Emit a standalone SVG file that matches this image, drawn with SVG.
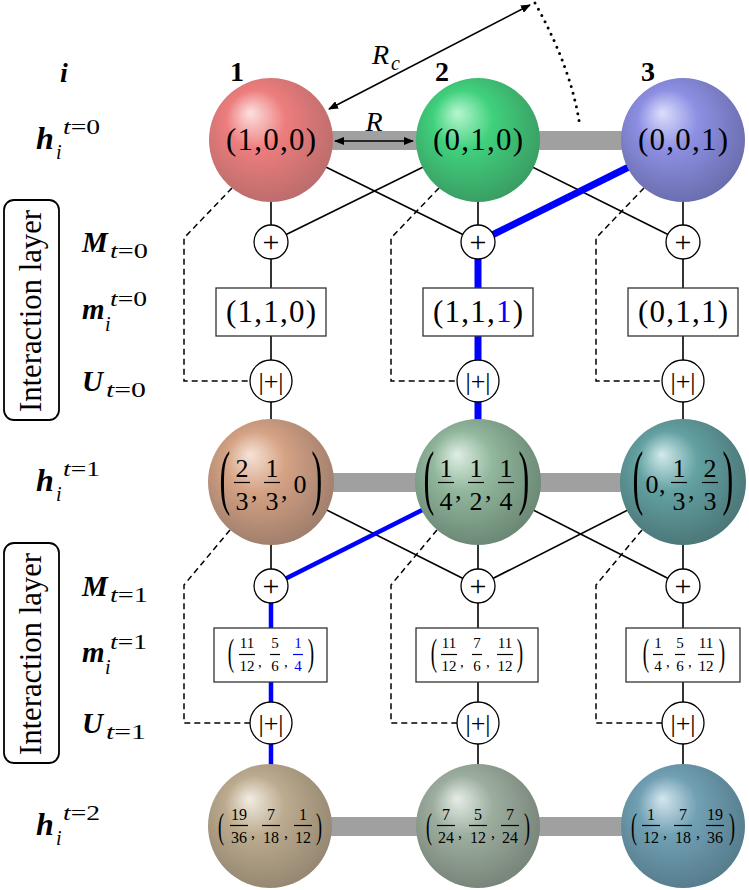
<svg xmlns="http://www.w3.org/2000/svg" width="749" height="890" viewBox="0 0 749 890">
<style>
.t{font-family:"Liberation Serif","DejaVu Serif",serif;fill:#000}
.it{font-style:italic}
.bi{font-style:italic;font-weight:bold}
.b{font-weight:bold}
.m{text-anchor:middle}
.ln{stroke:#000;stroke-width:1.6;fill:none}
.dash{stroke:#000;stroke-width:1.5;fill:none;stroke-dasharray:6 4}
.gbar{fill:#a0a0a0}
.box{fill:#fff;stroke:#333;stroke-width:1.3}
.op{fill:#fff;stroke:#000;stroke-width:1.3}
.fb{stroke:#000;stroke-width:1.2}
.fbb{stroke:#0000ff;stroke-width:1.2}
.f30{font-size:31px}
.f25{font-size:26px}
.f15{font-size:16px}
.f14{font-size:15px}
.lay{fill:none;stroke:#000;stroke-width:1.8}
</style>
<defs>
<marker id="ah" viewBox="0 0 10 8" refX="9" refY="4" markerWidth="10" markerHeight="8" markerUnits="userSpaceOnUse" orient="auto-start-reverse"><path d="M0,0 L10,4 L0,8 z" fill="#000"/></marker>
<radialGradient id="gr" fx="0.33" fy="0.28" r="0.6" cx="0.45" cy="0.42"><stop offset="0" stop-color="#fde0e0"/><stop offset="0.4" stop-color="#ed7d7d"/><stop offset="1" stop-color="#bb6c6c"/></radialGradient>
<radialGradient id="gg" fx="0.33" fy="0.28" r="0.6" cx="0.45" cy="0.42"><stop offset="0" stop-color="#b8f6d0"/><stop offset="0.4" stop-color="#40d17d"/><stop offset="1" stop-color="#3a9c63"/></radialGradient>
<radialGradient id="gb" fx="0.33" fy="0.28" r="0.6" cx="0.45" cy="0.42"><stop offset="0" stop-color="#dcdefc"/><stop offset="0.4" stop-color="#8d90e3"/><stop offset="1" stop-color="#6a6dac"/></radialGradient>
<radialGradient id="go" fx="0.33" fy="0.28" r="0.6" cx="0.45" cy="0.42"><stop offset="0" stop-color="#f6e2d6"/><stop offset="0.4" stop-color="#d5a284"/><stop offset="1" stop-color="#9f7e6c"/></radialGradient>
<radialGradient id="gs" fx="0.33" fy="0.28" r="0.6" cx="0.45" cy="0.42"><stop offset="0" stop-color="#dfeee4"/><stop offset="0.4" stop-color="#91b79c"/><stop offset="1" stop-color="#6a8674"/></radialGradient>
<radialGradient id="gt" fx="0.33" fy="0.28" r="0.6" cx="0.45" cy="0.42"><stop offset="0" stop-color="#d2eaea"/><stop offset="0.4" stop-color="#63a1a2"/><stop offset="1" stop-color="#4b7677"/></radialGradient>
<radialGradient id="gn" fx="0.33" fy="0.28" r="0.6" cx="0.45" cy="0.42"><stop offset="0" stop-color="#f2ece2"/><stop offset="0.4" stop-color="#bcab8f"/><stop offset="1" stop-color="#948671"/></radialGradient>
<radialGradient id="gv" fx="0.33" fy="0.28" r="0.6" cx="0.45" cy="0.42"><stop offset="0" stop-color="#e6ece6"/><stop offset="0.4" stop-color="#9dae9f"/><stop offset="1" stop-color="#778479"/></radialGradient>
<radialGradient id="gw" fx="0.33" fy="0.28" r="0.6" cx="0.45" cy="0.42"><stop offset="0" stop-color="#d4e6ee"/><stop offset="0.4" stop-color="#71a0b4"/><stop offset="1" stop-color="#557c8b"/></radialGradient>
</defs>
<rect width="749" height="890" fill="#fff"/>

<!-- left labels -->
<g id="labels">
<rect class="lay" x="4" y="200" width="55" height="220" rx="10"/>
<text class="t" font-size="31" transform="translate(41,311) rotate(-90)" text-anchor="middle" textLength="202" lengthAdjust="spacingAndGlyphs">Interaction layer</text>
<rect class="lay" x="4" y="543" width="55" height="220" rx="10"/>
<text class="t" font-size="31" transform="translate(41,654) rotate(-90)" text-anchor="middle" textLength="202" lengthAdjust="spacingAndGlyphs">Interaction layer</text>
<text class="t bi" x="60" y="82" font-size="28">i</text>
<text class="t bi" x="36" y="149" font-size="32">h</text><text class="t it" x="56" y="159" font-size="20">i</text><text class="t" x="63" y="134" font-size="21" textLength="37" lengthAdjust="spacingAndGlyphs"><tspan font-style="italic">t</tspan>=0</text>
<text class="t bi" x="82" y="252" font-size="29">M</text><text class="t" x="110" y="258" font-size="21" textLength="38" lengthAdjust="spacingAndGlyphs"><tspan font-style="italic">t</tspan>=0</text>
<text class="t bi" x="82" y="319" font-size="29">m</text><text class="t it" x="105" y="331" font-size="20">i</text><text class="t" x="110" y="306" font-size="21" textLength="37" lengthAdjust="spacingAndGlyphs"><tspan font-style="italic">t</tspan>=0</text>
<text class="t bi" x="82" y="391" font-size="29">U</text><text class="t" x="106" y="397" font-size="21" textLength="40" lengthAdjust="spacingAndGlyphs"><tspan font-style="italic">t</tspan>=0</text>
<text class="t bi" x="36" y="491" font-size="32">h</text><text class="t it" x="56" y="501" font-size="20">i</text><text class="t" x="63" y="476" font-size="21" textLength="37" lengthAdjust="spacingAndGlyphs"><tspan font-style="italic">t</tspan>=1</text>
<text class="t bi" x="82" y="596" font-size="29">M</text><text class="t" x="110" y="602" font-size="21" textLength="38" lengthAdjust="spacingAndGlyphs"><tspan font-style="italic">t</tspan>=1</text>
<text class="t bi" x="82" y="662" font-size="29">m</text><text class="t it" x="105" y="674" font-size="20">i</text><text class="t" x="110" y="649" font-size="21" textLength="37" lengthAdjust="spacingAndGlyphs"><tspan font-style="italic">t</tspan>=1</text>
<text class="t bi" x="82" y="733" font-size="29">U</text><text class="t" x="106" y="739" font-size="21" textLength="40" lengthAdjust="spacingAndGlyphs"><tspan font-style="italic">t</tspan>=1</text>
<text class="t bi" x="36" y="835" font-size="32">h</text><text class="t it" x="56" y="845" font-size="20">i</text><text class="t" x="63" y="820" font-size="21" textLength="37" lengthAdjust="spacingAndGlyphs"><tspan font-style="italic">t</tspan>=2</text>
<text class="t b m" x="237" y="81" font-size="28">1</text>
<text class="t b m" x="442" y="81" font-size="28">2</text>
<text class="t b m" x="648" y="81" font-size="28">3</text>
</g>

<!-- connectors -->
<g id="connectors">
<rect class="gbar" x="271" y="131" width="207" height="19"/>
<rect class="gbar" x="478" y="131" width="205" height="19"/>
<rect class="gbar" x="271" y="473" width="207" height="19"/>
<rect class="gbar" x="478" y="473" width="205" height="19"/>
<rect class="gbar" x="270" y="817" width="208" height="19"/>
<rect class="gbar" x="478" y="817" width="205" height="19"/>
<line class="ln" x1="271" y1="140" x2="271" y2="826"/>
<line class="ln" x1="478" y1="140" x2="478" y2="826"/>
<line class="ln" x1="683" y1="140" x2="683" y2="826"/>
<line class="ln" x1="271" y1="140" x2="478" y2="242"/>
<line class="ln" x1="478" y1="140" x2="271" y2="242"/>
<line class="ln" x1="478" y1="140" x2="683" y2="242"/>
<line x1="683" y1="140" x2="478" y2="242" stroke="#0000ff" stroke-width="7"/>
<line x1="478" y1="242" x2="478" y2="482" stroke="#0000ff" stroke-width="7"/>
<line class="ln" x1="271" y1="482" x2="478" y2="586"/>
<line class="ln" x1="478" y1="482" x2="683" y2="586"/>
<line class="ln" x1="683" y1="482" x2="478" y2="586"/>
<line x1="478" y1="482" x2="271" y2="586" stroke="#0000ff" stroke-width="4.5"/>
<line x1="271" y1="586" x2="271" y2="826" stroke="#0000ff" stroke-width="4.5"/>
<path class="dash" d="M232,188 L184,238 L184,381 L250,381"/>
<path class="dash" d="M439,188 L391,238 L391,381 L457,381"/>
<path class="dash" d="M644,188 L596,238 L596,381 L662,381"/>
<path class="dash" d="M230,530 L184,585 L184,723 L250,723"/>
<path class="dash" d="M437,530 L391,585 L391,723 L457,723"/>
<path class="dash" d="M642,530 L596,585 L596,723 L662,723"/>
</g>

<!-- row h t=0 -->
<g id="h0-1"><circle cx="271" cy="140" r="62" fill="url(#gr)"/><text class="t m f30" x="271" y="150" textLength="90" lengthAdjust="spacing">(1,0,0)</text></g>
<g id="h0-2"><circle cx="478" cy="140" r="62" fill="url(#gg)"/><text class="t m f30" x="478" y="150" textLength="90" lengthAdjust="spacing">(0,1,0)</text></g>
<g id="h0-3"><circle cx="683" cy="140" r="62" fill="url(#gb)"/><text class="t m f30" x="683" y="150" textLength="90" lengthAdjust="spacing">(0,0,1)</text></g>

<!-- annotations R, Rc -->
<g id="annot">
<line class="ln" x1="335" y1="141" x2="413" y2="141" marker-start="url(#ah)" marker-end="url(#ah)"/>
<text class="t it m" x="374" y="131" font-size="28">R</text>
<line class="ln" x1="329" y1="109" x2="530" y2="5" marker-start="url(#ah)" marker-end="url(#ah)"/>
<text class="t it" x="372" y="64" font-size="28">R</text><text class="t it" x="391" y="70" font-size="20">c</text>
<path d="M535,3 Q572,69 580,127" fill="none" stroke="#000" stroke-width="3" stroke-linecap="round" stroke-dasharray="0 7"/>
</g>

<!-- M t=0 -->
<g id="M0-1"><circle class="op" cx="271" cy="242" r="17"/><text class="t m" x="271" y="252" font-size="30">+</text></g>
<g id="M0-2"><circle class="op" cx="478" cy="242" r="17"/><text class="t m" x="478" y="252" font-size="30">+</text></g>
<g id="M0-3"><circle class="op" cx="683" cy="242" r="17"/><text class="t m" x="683" y="252" font-size="30">+</text></g>

<!-- m t=0 -->
<g id="m0-1"><rect class="box" x="216" y="288" width="110" height="48"/><text class="t m f30" x="271" y="322" textLength="90" lengthAdjust="spacing">(1,1,0)</text></g>
<g id="m0-2"><rect class="box" x="423" y="288" width="110" height="48"/><text class="t m f30" x="478" y="322" textLength="90" lengthAdjust="spacing">(1,1,<tspan fill="#0000ff" style="fill:#0000ff">1</tspan>)</text></g>
<g id="m0-3"><rect class="box" x="628" y="288" width="110" height="48"/><text class="t m f30" x="683" y="322" textLength="90" lengthAdjust="spacing">(0,1,1)</text></g>

<!-- U t=0 -->
<g id="U0-1"><circle class="op" cx="271" cy="381" r="21"/><text class="t m" x="271" y="390" font-size="26">|+|</text></g>
<g id="U0-2"><circle class="op" cx="478" cy="381" r="21"/><text class="t m" x="478" y="390" font-size="26">|+|</text></g>
<g id="U0-3"><circle class="op" cx="683" cy="381" r="21"/><text class="t m" x="683" y="390" font-size="26">|+|</text></g>

<!-- h t=1 -->
<g id="h1-1"><circle cx="271" cy="482" r="63" fill="url(#go)"/>
<text class="t m" font-size="72" transform="translate(225,501) scale(0.45,1)">(</text>
<text class="t m f25" x="242" y="477">2</text><line class="fb" x1="234" y1="482.5" x2="250" y2="482.5"/><text class="t m f25" x="242" y="510">3</text>
<text class="t f25" x="251" y="499">,</text>
<text class="t m f25" x="272" y="477">1</text><line class="fb" x1="264" y1="482.5" x2="280" y2="482.5"/><text class="t m f25" x="272" y="510">3</text>
<text class="t f25" x="281" y="499">,</text>
<text class="t m f25" x="300" y="493">0</text>
<text class="t m" font-size="72" transform="translate(317,501) scale(0.45,1)">)</text>
</g>
<g id="h1-2"><circle cx="478" cy="482" r="63" fill="url(#gs)"/>
<text class="t m" font-size="72" transform="translate(429,501) scale(0.45,1)">(</text>
<text class="t m f25" x="446" y="477">1</text><line class="fb" x1="438" y1="482.5" x2="454" y2="482.5"/><text class="t m f25" x="446" y="510">4</text>
<text class="t f25" x="455" y="499">,</text>
<text class="t m f25" x="476" y="477">1</text><line class="fb" x1="468" y1="482.5" x2="484" y2="482.5"/><text class="t m f25" x="476" y="510">2</text>
<text class="t f25" x="485" y="499">,</text>
<text class="t m f25" x="506" y="477">1</text><line class="fb" x1="498" y1="482.5" x2="514" y2="482.5"/><text class="t m f25" x="506" y="510">4</text>
<text class="t m" font-size="72" transform="translate(524,501) scale(0.45,1)">)</text>
</g>
<g id="h1-3"><circle cx="683" cy="482" r="63" fill="url(#gt)"/>
<text class="t m" font-size="72" transform="translate(638,501) scale(0.45,1)">(</text>
<text class="t m f25" x="652" y="493">0</text>
<text class="t f25" x="659" y="493">,</text>
<text class="t m f25" x="679" y="477">1</text><line class="fb" x1="671" y1="482.5" x2="687" y2="482.5"/><text class="t m f25" x="679" y="510">3</text>
<text class="t f25" x="688" y="499">,</text>
<text class="t m f25" x="710" y="477">2</text><line class="fb" x1="702" y1="482.5" x2="718" y2="482.5"/><text class="t m f25" x="710" y="510">3</text>
<text class="t m" font-size="72" transform="translate(728,501) scale(0.45,1)">)</text>
</g>

<!-- M t=1 -->
<g id="M1-1"><circle class="op" cx="271" cy="586" r="17"/><text class="t m" x="271" y="596" font-size="30">+</text></g>
<g id="M1-2"><circle class="op" cx="478" cy="586" r="17"/><text class="t m" x="478" y="596" font-size="30">+</text></g>
<g id="M1-3"><circle class="op" cx="683" cy="586" r="17"/><text class="t m" x="683" y="596" font-size="30">+</text></g>

<!-- m t=1 -->
<g id="m1-1"><rect class="box" x="214" y="628" width="113" height="54"/>
<text class="t m" font-size="38" transform="translate(231,665) scale(0.5,1)">(</text>
<text class="t m f14" x="247" y="648">11</text><line class="fb" x1="239" y1="654.5" x2="255" y2="654.5"/><text class="t m f14" x="247" y="671">12</text>
<text class="t f14" x="258" y="667">,</text>
<text class="t m f14" x="275" y="648">5</text><line class="fb" x1="270" y1="654.5" x2="280" y2="654.5"/><text class="t m f14" x="275" y="671">6</text>
<text class="t f14" x="284" y="667">,</text>
<text class="t m f14" x="298" y="648" style="fill:#0000ff">1</text><line class="fbb" x1="293" y1="654.5" x2="303" y2="654.5"/><text class="t m f14" x="298" y="671" style="fill:#0000ff">4</text>
<text class="t m" font-size="38" transform="translate(311,665) scale(0.5,1)">)</text>
</g>
<g id="m1-2"><rect class="box" x="416" y="628" width="122" height="54"/>
<text class="t m" font-size="38" transform="translate(434,665) scale(0.5,1)">(</text>
<text class="t m f14" x="449" y="648">11</text><line class="fb" x1="441" y1="654.5" x2="457" y2="654.5"/><text class="t m f14" x="449" y="671">12</text>
<text class="t f14" x="460" y="667">,</text>
<text class="t m f14" x="477" y="648">7</text><line class="fb" x1="472" y1="654.5" x2="482" y2="654.5"/><text class="t m f14" x="477" y="671">6</text>
<text class="t f14" x="486" y="667">,</text>
<text class="t m f14" x="505" y="648">11</text><line class="fb" x1="497" y1="654.5" x2="513" y2="654.5"/><text class="t m f14" x="505" y="671">12</text>
<text class="t m" font-size="38" transform="translate(520,665) scale(0.5,1)">)</text>
</g>
<g id="m1-3"><rect class="box" x="626" y="628" width="114" height="54"/>
<text class="t m" font-size="38" transform="translate(646,665) scale(0.5,1)">(</text>
<text class="t m f14" x="658" y="648">1</text><line class="fb" x1="653" y1="654.5" x2="663" y2="654.5"/><text class="t m f14" x="658" y="671">4</text>
<text class="t f14" x="666" y="667">,</text>
<text class="t m f14" x="680" y="648">5</text><line class="fb" x1="675" y1="654.5" x2="685" y2="654.5"/><text class="t m f14" x="680" y="671">6</text>
<text class="t f14" x="688" y="667">,</text>
<text class="t m f14" x="706" y="648">11</text><line class="fb" x1="698" y1="654.5" x2="714" y2="654.5"/><text class="t m f14" x="706" y="671">12</text>
<text class="t m" font-size="38" transform="translate(722,665) scale(0.5,1)">)</text>
</g>

<!-- U t=1 -->
<g id="U1-1"><circle class="op" cx="271" cy="723" r="21"/><text class="t m" x="271" y="732" font-size="26">|+|</text></g>
<g id="U1-2"><circle class="op" cx="478" cy="723" r="21"/><text class="t m" x="478" y="732" font-size="26">|+|</text></g>
<g id="U1-3"><circle class="op" cx="683" cy="723" r="21"/><text class="t m" x="683" y="732" font-size="26">|+|</text></g>

<!-- h t=2 -->
<g id="h2-1"><circle cx="270" cy="826" r="62" fill="url(#gn)"/>
<text class="t m" font-size="36" transform="translate(221,838) scale(0.5,1)">(</text>
<text class="t m f15" x="239" y="820">19</text><line class="fb" x1="230" y1="825.5" x2="248" y2="825.5"/><text class="t m f15" x="239" y="843">36</text>
<text class="t f15" x="251" y="838">,</text>
<text class="t m f15" x="271" y="820">7</text><line class="fb" x1="262" y1="825.5" x2="280" y2="825.5"/><text class="t m f15" x="271" y="843">18</text>
<text class="t f15" x="284" y="838">,</text>
<text class="t m f15" x="303" y="820">1</text><line class="fb" x1="294" y1="825.5" x2="312" y2="825.5"/><text class="t m f15" x="303" y="843">12</text>
<text class="t m" font-size="36" transform="translate(319,838) scale(0.5,1)">)</text>
</g>
<g id="h2-2"><circle cx="478" cy="826" r="62" fill="url(#gv)"/>
<text class="t m" font-size="36" transform="translate(429,838) scale(0.5,1)">(</text>
<text class="t m f15" x="446" y="820">7</text><line class="fb" x1="437" y1="825.5" x2="455" y2="825.5"/><text class="t m f15" x="446" y="843">24</text>
<text class="t f15" x="458" y="838">,</text>
<text class="t m f15" x="478" y="820">5</text><line class="fb" x1="469" y1="825.5" x2="487" y2="825.5"/><text class="t m f15" x="478" y="843">12</text>
<text class="t f15" x="491" y="838">,</text>
<text class="t m f15" x="510" y="820">7</text><line class="fb" x1="501" y1="825.5" x2="519" y2="825.5"/><text class="t m f15" x="510" y="843">24</text>
<text class="t m" font-size="36" transform="translate(527,838) scale(0.5,1)">)</text>
</g>
<g id="h2-3"><circle cx="683" cy="826" r="62" fill="url(#gw)"/>
<text class="t m" font-size="36" transform="translate(634,838) scale(0.5,1)">(</text>
<text class="t m f15" x="651" y="820">1</text><line class="fb" x1="642" y1="825.5" x2="660" y2="825.5"/><text class="t m f15" x="651" y="843">12</text>
<text class="t f15" x="663" y="838">,</text>
<text class="t m f15" x="683" y="820">7</text><line class="fb" x1="674" y1="825.5" x2="692" y2="825.5"/><text class="t m f15" x="683" y="843">18</text>
<text class="t f15" x="696" y="838">,</text>
<text class="t m f15" x="715" y="820">19</text><line class="fb" x1="706" y1="825.5" x2="724" y2="825.5"/><text class="t m f15" x="715" y="843">36</text>
<text class="t m" font-size="36" transform="translate(732,838) scale(0.5,1)">)</text>
</g>
</svg>
